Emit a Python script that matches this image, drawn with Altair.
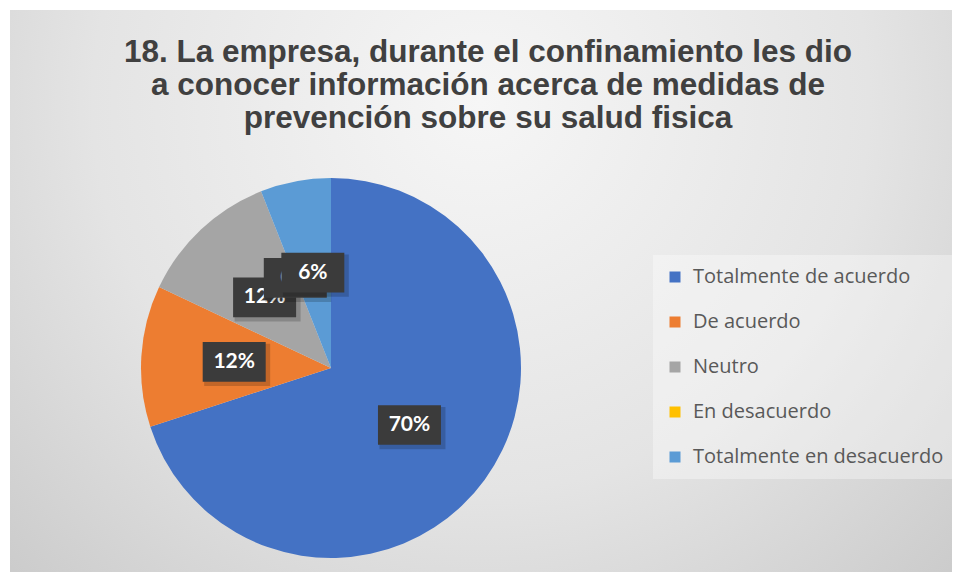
import altair as alt
import pandas as pd

# ---- data ----
categories = ["Totalmente de acuerdo", "De acuerdo", "Neutro", "En desacuerdo", "Totalmente en desacuerdo"]
values = [70, 12, 12, 0, 6]
colors = ["#4472C4", "#ED7D31", "#A5A5A5", "#FFC000", "#5B9BD5"]
title_lines = [
    "18. La empresa, durante el confinamiento les dio",
    "a conocer información acerca de medidas de",
    "prevención sobre su salud fisica",
]

df = pd.DataFrame({"idx": list(range(len(categories))), "cat": categories, "value": values})

# ---- layout constants ----
W, H = 942, 562
CX, CY = 321, 358
R = 190
LR = 97  # label radius

bg = alt.Chart(pd.DataFrame({"z": [0]})).mark_rect(
    fill=alt.Gradient(
        gradient="radial",
        x1=0.5, y1=0.3, r1=0.0,
        x2=0.5, y2=0.3, r2=0.75,
        stops=[alt.GradientStop(color="#f6f6f6", offset=0),
               alt.GradientStop(color="#e4e4e4", offset=0.55),
               alt.GradientStop(color="#c8c8c8", offset=1)],
    ),
    strokeWidth=0,
).encode(x=alt.value(0), x2=alt.value(W), y=alt.value(0), y2=alt.value(H))

base = alt.Chart(df)

arcs = base.mark_arc(outerRadius=R, strokeWidth=0).encode(
    theta=alt.Theta("value:Q", stack=True),
    order=alt.Order("idx:Q"),
    color=alt.Color(
        "cat:N",
        scale=alt.Scale(domain=categories, range=colors),
        legend=alt.Legend(
            title=None,
            orient="none",
            legendX=643,
            legendY=245,
            padding=12,
            fillColor="rgba(255,255,255,0.35)",
            symbolType="square",
            symbolSize=121,
            symbolStrokeWidth=0,
            labelFont="Open Sans",
            labelFontSize=20,
            labelColor="#595959",
            labelOffset=8,
            rowPadding=25,
            labelLimit=400,
        ),
    ),
    x=alt.value(CX),
    y=alt.value(CY),
)

lab = base.transform_window(
    cum="sum(value)", sort=[alt.SortField("idx")], frame=[None, 0]
).transform_joinaggregate(
    total="sum(value)"
).transform_calculate(
    mid="(datum.cum - datum.value/2) / datum.total * 2 * PI",
    px=f"{CX} + {LR} * sin(datum.mid)",
    py=f"{CY} - {LR} * cos(datum.mid)",
    spx=f"{CX} + {LR} * sin(datum.mid) + 3",
    spy=f"{CY} - {LR} * cos(datum.mid) + 3",
    lbl="datum.value + '%'",
)

label_layers = []
for i in range(len(categories)):
    sub = lab.transform_filter(alt.datum.idx == i)
    label_layers.append(sub.mark_point(
        shape="M-1,-0.64L1,-0.64L1,0.64L-1,0.64Z", filled=True, size=66 * 66,
        color="#000000", opacity=0.18, strokeWidth=0,
    ).encode(x=alt.X("spx:Q", scale=None), y=alt.Y("spy:Q", scale=None)))
    label_layers.append(sub.mark_point(
        shape="M-1,-0.63L1,-0.63L1,0.63L-1,0.63Z", filled=True, size=63 * 63,
        color="#3b3b3b", opacity=1, strokeWidth=0,
    ).encode(x=alt.X("px:Q", scale=None), y=alt.Y("py:Q", scale=None)))
    label_layers.append(sub.mark_text(
        font="Lato", fontWeight="bold", fontSize=21, color="white",
        align="center", baseline="middle",
    ).encode(x=alt.X("px:Q", scale=None), y=alt.Y("py:Q", scale=None), text="lbl:N"))

title = alt.Chart(pd.DataFrame({"t": ["\n".join(title_lines)]})).mark_text(
    font="Liberation Sans", fontWeight="bold", fontSize=31.5, color="#404040",
    align="center", baseline="alphabetic", lineBreak="\n", lineHeight=33,
).encode(text="t:N", x=alt.value(478), y=alt.value(52))

chart = alt.layer(bg, arcs, *label_layers, title).properties(
    width=W, height=H,
    autosize=alt.AutoSizeParams(type="none"),
    padding={"left": 2, "top": 2, "right": 0, "bottom": 0},
    background="white",
).configure_view(stroke=None)

chart.save("out.html", embed_options={"renderer": "svg", "actions": False})
